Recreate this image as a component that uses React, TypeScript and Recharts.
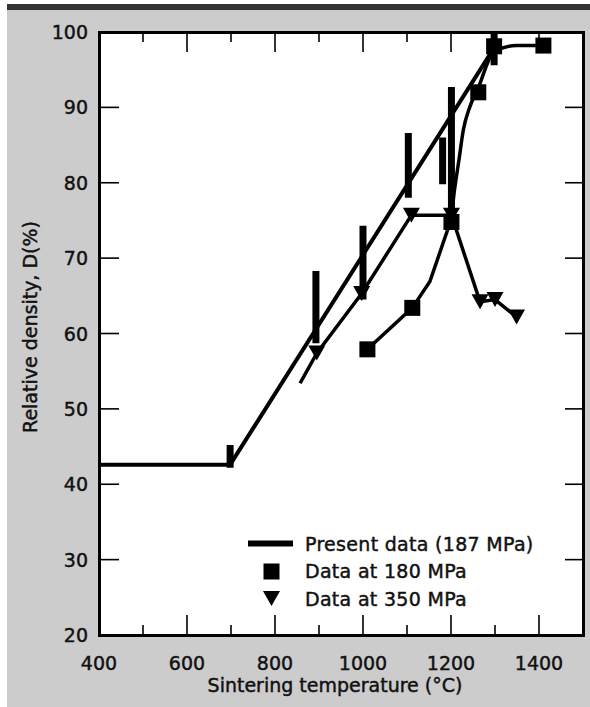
import React from 'react';
import { ComposedChart, Line, Scatter, XAxis, YAxis, Legend } from 'recharts';

// ---------- data ----------
const xTicks = [400, 500, 600, 700, 800, 900, 1000, 1100, 1200, 1300, 1400, 1500];
const xLabelTicks = [400, 600, 800, 1000, 1200, 1400];
const yTicks = [20, 30, 40, 50, 60, 70, 80, 90, 100];

// Present data (187 MPa): fitted line
const presentLine = [
  { t: 400, d: 42.6 },
  { t: 698, d: 42.6 },
  { t: 1300, d: 98.1 },
];

// Present data scatter bands (low / high)
const presentBars = [
  { t: 698, lo: 42.2, hi: 45.2 },
  { t: 893, lo: 58.7, hi: 68.3 },
  { t: 1000, lo: 64.5, hi: 74.3 },
  { t: 1103, lo: 78.0, hi: 86.6 },
  { t: 1181, lo: 79.8, hi: 86.0 },
  { t: 1201, lo: 75.0, hi: 92.7 },
  { t: 1298, lo: 95.6, hi: 100 },
];

// Data at 180 MPa
const squares = [
  { t: 1010, d: 57.9 },
  { t: 1112, d: 63.4 },
  { t: 1201, d: 74.8 },
  { t: 1262, d: 92.0 },
  { t: 1298, d: 98.1 },
  { t: 1410, d: 98.2 },
];
const squareCurveLow = [
  { t: 1010, d: 57.9 },
  { t: 1112, d: 63.4 },
  { t: 1152, d: 66.9 },
  { t: 1192, d: 73.7 },
];
const squareCurveHigh = [
  { t: 1192, d: 73.7 },
  { t: 1201, d: 75.5 },
  { t: 1207, d: 78.6 },
  { t: 1218, d: 83.0 },
  { t: 1228, d: 87.0 },
  { t: 1243, d: 90.1 },
  { t: 1260, d: 92.3 },
  { t: 1298, d: 97.4 },
  { t: 1349, d: 98.2 },
  { t: 1410, d: 98.2 },
];

// Data at 350 MPa
const triangles = [
  { t: 895, d: 57.4 },
  { t: 997, d: 65.3 },
  { t: 1110, d: 75.7 },
  { t: 1201, d: 75.7 },
  { t: 1266, d: 64.2 },
  { t: 1300, d: 64.5 },
  { t: 1349, d: 62.2 },
];
const triangleLine = [
  { t: 857, d: 53.4 },
  { t: 895, d: 57.4 },
  { t: 997, d: 65.3 },
  { t: 1110, d: 75.7 },
  { t: 1201, d: 75.7 },
  { t: 1266, d: 64.2 },
  { t: 1300, d: 64.5 },
  { t: 1349, d: 62.2 },
];

const legendItems = [
  { label: 'Present data (187 MPa)', kind: 'line' },
  { label: 'Data at 180 MPa', kind: 'square' },
  { label: 'Data at 350 MPa', kind: 'triangle' },
];

const xTitle = 'Sintering temperature (\u00B0C)';
const yTitle = 'Relative density, D(%)';

// band segments built from presentBars (null breaks between bands)
const barSegments = presentBars.flatMap((b) => [
  { t: b.t, d: b.lo },
  { t: b.t, d: b.hi },
  { t: b.t, d: null },
]);

// ---------- layout ----------
const W = 590;
const H = 707;
const PLOT_LEFT = 99;
const PLOT_RIGHT = 583;
const PLOT_TOP = 32;
const PLOT_BOTTOM = 635;
const FONT = '"DejaVu Sans", Verdana, sans-serif';
const TEXT = '#111';
const textStyle = { fontFamily: FONT, fontSize: 19, fill: TEXT, stroke: TEXT, strokeWidth: 0.45 } as const;

const XTick = (props: any) => {
  const { x, payload } = props;
  const v = payload.value;
  const major = v % 200 === 0;
  const len = major ? 20 : 10;
  return (
    <g>
      {v > 400 && v < 1500 && (
        <>
          <line x1={x} x2={x} y1={PLOT_BOTTOM} y2={PLOT_BOTTOM - len} stroke="#000" strokeWidth={1.6} />
          <line x1={x} x2={x} y1={PLOT_TOP} y2={PLOT_TOP + len} stroke="#000" strokeWidth={1.6} />
        </>
      )}
      {xLabelTicks.includes(v) && (
        <text x={x} y={663} textAnchor="middle" dominantBaseline="central" style={textStyle}>
          {v}
        </text>
      )}
    </g>
  );
};

const YTick = (props: any) => {
  const { y, payload } = props;
  const v = payload.value;
  return (
    <g>
      {v > 20 && v < 100 && (
        <>
          <line x1={PLOT_LEFT} x2={PLOT_LEFT + 20} y1={y} y2={y} stroke="#000" strokeWidth={1.6} />
          <line x1={PLOT_RIGHT - 18} x2={PLOT_RIGHT} y1={y} y2={y} stroke="#000" strokeWidth={1.6} />
        </>
      )}
      <text x={88} y={y} textAnchor="end" dominantBaseline="central" style={textStyle}>
        {v}
      </text>
    </g>
  );
};

const SquareShape = (props: any) => {
  const { cx, cy } = props;
  if (cx == null || cy == null) return null;
  return <rect x={cx - 8} y={cy - 8} width={16} height={16} fill="#000" />;
};

const TriangleShape = (props: any) => {
  const { cx, cy } = props;
  if (cx == null || cy == null) return null;
  return <polygon points={`${cx - 8.5},${cy - 7.5} ${cx + 8.5},${cy - 7.5} ${cx},${cy + 7.5}`} fill="#000" />;
};

const LegendIcon = ({ kind }: { kind: string }) => (
  <svg width={57} height={27} style={{ display: 'block', flex: 'none' }}>
    {kind === 'line' && <rect x={0} y={10.5} width={45} height={6} fill="#000" />}
    {kind === 'square' && <rect x={15.5} y={5.5} width={16} height={16} fill="#000" />}
    {kind === 'triangle' && <polygon points="15,6 32,6 23.5,21" fill="#000" />}
  </svg>
);

const renderLegend = () => (
  <div style={{ fontFamily: FONT, fontSize: 19, color: TEXT, WebkitTextStroke: '0.45px #111' } as any}>
    {legendItems.map((it) => (
      <div key={it.label} style={{ display: 'flex', alignItems: 'center', height: 27.5, whiteSpace: 'nowrap' }}>
        <LegendIcon kind={it.kind} />
        <span style={{ letterSpacing: 0.3 }}>{it.label}</span>
      </div>
    ))}
  </div>
);

export default function App() {
  return (
    <div style={{ position: 'absolute', left: 0, top: 0, width: W, height: H, background: '#fff', overflow: 'hidden' }}>
      <div style={{ position: 'absolute', left: 7, top: 4, width: W - 7, height: 6, background: '#333' }} />
      <div style={{ position: 'absolute', left: 7, top: 10, width: W - 7, height: H - 10, background: '#cccccc' }} />
      <div
        style={{
          position: 'absolute',
          left: PLOT_LEFT - 1.5,
          top: PLOT_TOP - 1.5,
          width: PLOT_RIGHT - PLOT_LEFT + 3,
          height: PLOT_BOTTOM - PLOT_TOP + 3,
          boxSizing: 'border-box',
          border: '3px solid #000',
          background: '#fff',
        }}
      />
      <div style={{ position: 'absolute', left: 0, top: 0 }}>
        <ComposedChart
          width={W}
          height={H}
          margin={{ top: PLOT_TOP, right: W - PLOT_RIGHT, bottom: 0, left: 0 }}
        >
          <XAxis
            type="number"
            dataKey="t"
            domain={[400, 1500]}
            ticks={xTicks}
            interval={0}
            height={H - PLOT_BOTTOM}
            axisLine={false}
            tickLine={false}
            tickSize={0}
            tickMargin={0}
            tick={<XTick />}
            label={{
              value: xTitle,
              content: () => (
                <text x={335} y={685} textAnchor="middle" dominantBaseline="central" style={textStyle}>
                  {xTitle}
                </text>
              ),
            }}
          />
          <YAxis
            type="number"
            dataKey="d"
            domain={[20, 100]}
            ticks={yTicks}
            interval={0}
            width={PLOT_LEFT}
            axisLine={false}
            tickLine={false}
            tickSize={0}
            tickMargin={0}
            tick={<YTick />}
            label={{
              value: yTitle,
              content: () => (
                <text
                  x={30}
                  y={327}
                  transform="rotate(-90 30 327)"
                  textAnchor="middle"
                  dominantBaseline="central"
                  style={textStyle}
                >
                  {yTitle}
                </text>
              ),
            }}
          />
          <Line
            data={presentLine}
            dataKey="d"
            type="linear"
            stroke="#000"
            strokeWidth={4}
            dot={false}
            activeDot={false}
            isAnimationActive={false}
            legendType="none"
          />
          <Line
            data={barSegments}
            dataKey="d"
            type="linear"
            stroke="#000"
            strokeWidth={7}
            strokeLinecap="butt"
            connectNulls={false}
            dot={false}
            activeDot={false}
            isAnimationActive={false}
            legendType="none"
          />
          <Line
            data={squareCurveLow}
            dataKey="d"
            type="linear"
            stroke="#000"
            strokeWidth={3.5}
            dot={false}
            activeDot={false}
            isAnimationActive={false}
            legendType="none"
          />
          <Line
            data={squareCurveHigh}
            dataKey="d"
            type="monotone"
            stroke="#000"
            strokeWidth={3.5}
            dot={false}
            activeDot={false}
            isAnimationActive={false}
            legendType="none"
          />
          <Line
            data={triangleLine}
            dataKey="d"
            type="linear"
            stroke="#000"
            strokeWidth={3.5}
            dot={false}
            activeDot={false}
            isAnimationActive={false}
            legendType="none"
          />
          <Scatter data={squares} dataKey="d" shape={<SquareShape />} isAnimationActive={false} />
          <Scatter data={triangles} dataKey="d" shape={<TriangleShape />} isAnimationActive={false} />
          <Legend
            layout="vertical"
            align="center"
            verticalAlign="middle"
            wrapperStyle={{ position: 'absolute', left: 248, top: 530, width: 320, height: 83 }}
            content={renderLegend}
          />
        </ComposedChart>
      </div>
    </div>
  );
}
